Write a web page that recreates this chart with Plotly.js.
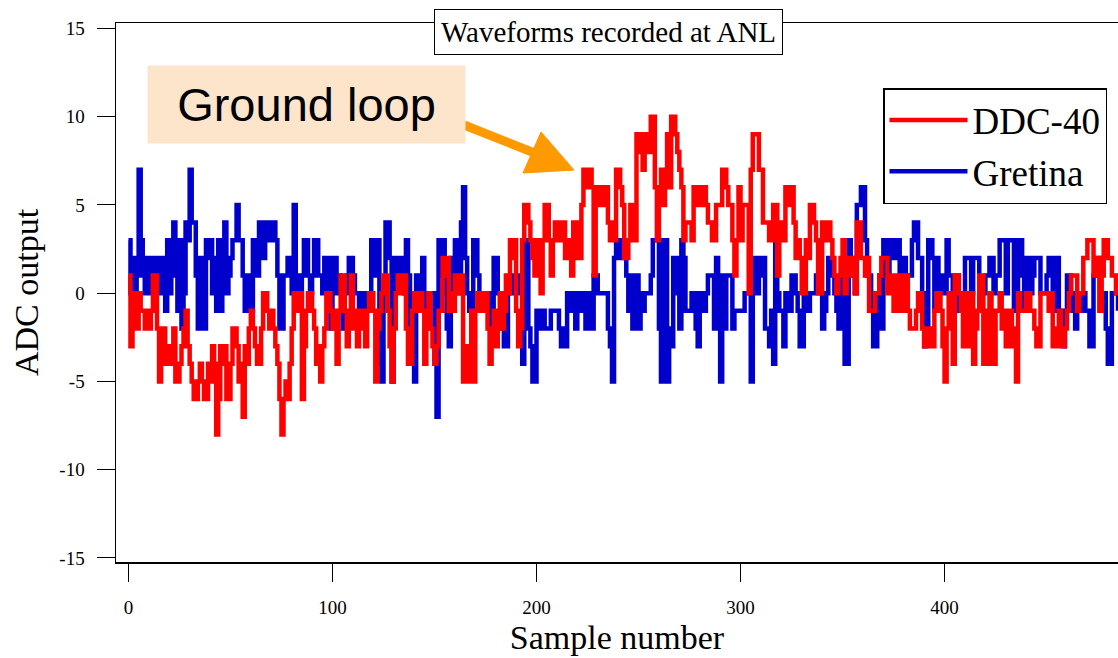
<!DOCTYPE html>
<html><head><meta charset="utf-8">
<script src="https://cdn.plot.ly/plotly-3.0.1.min.js"></script>
<style>html,body{margin:0;padding:0;background:#fff}#chart{width:1118px;height:658px}</style>
</head><body><div id="chart"></div>
<script>
// DDC-40 ADC output per sample
const ddc40 = [
 1,-3,0,-1,-2,0,-1,-1,-2,-1,
 -2,-1,1,1,-2,-5,-3,-2,-4,-3,
 -4,-3,-2,-5,-5,-4,-3,-2,-1,-3,
 -4,-5,-6,-6,-5,-4,-5,-6,-6,-4,
 -5,-3,-4,-8,-6,-3,-4,-3,-6,-6,
 -4,-2,-2,-3,-5,-4,-7,-3,-4,-2,
 -1,-2,-3,-4,-4,-2,0,0,-1,-2,
 -1,-2,-3,-4,-6,-8,-6,-5,-6,-4,
 -2,0,-1,0,0,-6,-3,-1,0,0,
 -1,-2,-4,-3,-5,-3,-2,0,0,-1,
 -2,-1,-4,-1,1,1,-1,-3,-1,1,
 -2,-1,-3,-1,-2,-1,-3,-1,0,0,
 -1,-5,-2,-1,0,1,1,-1,-3,-5,
 -2,0,1,1,0,1,-2,-4,-4,-1,
 0,-1,0,0,-1,-4,-1,0,-2,-3,
 -4,-3,-1,-1,2,1,2,-1,0,-1,
 1,1,0,1,-5,-3,-5,-3,-1,-5,
 -1,0,-1,-1,0,0,-2,-4,-2,-1,
 -3,-1,0,-2,-1,1,0,3,2,3,
 -1,-3,-2,3,5,5,4,3,2,1,
 3,2,0,3,5,5,3,1,3,4,
 4,3,4,4,2,2,3,1,4,4,
 2,2,5,7,7,6,7,6,1,6,
 5,6,6,5,6,4,3,4,3,7,
 7,6,5,2,2,3,5,4,3,9,
 8,9,7,9,9,8,10,10,6,3,
 5,7,5,6,9,6,10,10,9,8,
 7,6,3,4,4,4,3,6,6,5,
 6,5,6,5,4,4,3,3,5,5,
 5,7,7,6,5,5,3,1,3,6,
 3,5,5,5,0,7,9,9,9,7,
 7,4,4,4,3,3,5,5,1,4,
 4,3,6,6,5,6,4,2,3,2,
 0,0,3,2,5,5,4,3,0,0,
 4,4,3,4,3,2,1,0,1,2,
 3,0,2,1,2,2,0,4,4,2,
 2,1,2,-1,-1,-1,0,0,1,2,
 2,2,0,1,0,-1,1,1,-1,-1,
 1,1,-1,-2,-2,-2,-1,0,0,-2,
 -3,-3,-2,-3,-3,-1,0,0,-1,-3,
 -5,-2,0,-2,-4,1,1,0,-1,-3,
 0,-2,-3,0,-4,-2,-1,1,1,-4,
 -1,-4,0,-2,-4,-1,-1,0,-2,-1,
 -3,-2,-1,-3,-2,-5,0,-1,-1,-1,
 0,0,-1,-1,-2,-3,-3,0,0,0,
 0,-1,0,-3,-3,-2,-1,-3,-3,-2,
 -1,0,1,1,1,-1,0,0,2,2,
 3,3,3,1,2,2,-1,1,3,3,
 2,2,1,1,0,1
];
// Gretina ADC output per sample
const gretina = [
 3,0,2,0,1,7,3,1,0,2,
 0,2,1,2,0,1,2,0,-1,3,
 0,2,4,1,-1,3,-2,0,4,3,
 7,4,4,1,-2,2,0,-2,3,2,
 3,0,2,-1,3,-1,2,4,0,1,
 2,3,3,5,3,3,1,-1,1,1,
 -1,3,3,1,4,3,2,4,4,3,
 4,4,3,1,-2,-2,1,1,2,2,
 0,5,1,0,-1,1,3,3,1,0,
 1,3,3,1,1,0,2,2,0,-2,
 2,2,0,1,0,-2,0,1,2,2,
 1,0,0,-1,0,-1,0,0,0,3,
 3,1,3,-4,-5,0,4,4,2,-5,
 0,2,2,1,2,0,3,1,-2,0,
 -5,1,1,0,2,0,-2,0,0,0,
 -4,-7,3,1,3,0,-2,-3,2,1,
 3,3,0,4,6,2,0,-1,-1,3,
 3,1,0,-1,-1,0,0,-2,-1,2,
 2,0,0,-2,-3,-3,0,1,0,0,
 0,1,0,-4,3,3,-2,-3,-5,-5,
 -1,-1,-2,-1,-2,-2,-2,-1,-1,-1,
 -1,-2,-3,-2,-3,0,0,-1,0,-2,
 0,0,-1,0,-2,-1,0,-2,1,1,
 0,0,0,0,0,-2,-3,-5,2,3,
 3,2,3,2,1,-1,1,-2,1,1,
 -2,0,-1,0,0,0,1,3,3,3,
 -2,-5,3,3,-5,-2,-3,2,2,0,
 -2,3,2,-1,-1,-1,0,0,-2,-3,
 0,0,-1,0,1,1,1,-2,2,-1,
 -5,1,-2,1,1,1,-2,-1,-1,-1,
 -1,-1,0,0,0,-5,2,2,0,1,
 2,2,-2,-2,-3,-1,-4,4,0,-1,
 -1,-3,0,-1,-1,1,1,0,-1,-3,
 -3,0,-1,-1,0,0,0,1,0,0,
 -2,-1,0,2,2,1,0,-1,-2,1,
 1,-4,-4,3,2,1,0,5,5,6,
 6,3,1,1,-1,-3,-3,-1,1,-2,
 3,1,1,3,3,2,3,3,1,2,
 2,1,1,1,3,4,4,2,2,0,
 -3,-2,3,3,2,-1,2,0,1,1,
 0,3,1,1,0,1,1,-1,0,0,
 2,2,2,0,2,2,2,-1,0,0,
 1,1,2,2,0,1,1,3,3,3,
 0,3,3,3,-1,0,3,3,1,-1,
 2,2,0,1,2,2,2,0,0,0,
 1,2,2,-1,2,2,-1,-1,-3,-1,
 1,1,-1,0,-2,0,-1,-1,0,-1,
 -1,-3,-3,1,2,2,-1,-1,0,-2,
 -4,-4,0,0,0,-1
];
const sampleNumbers = ddc40.map((_, i) => i);
const xTickVals = [0, 100, 200, 300, 400];
const xTickLabels = ['0', '100', '200', '300', '400'];
const yTickVals = [-15, -10, -5, 0, 5, 10, 15];
const yTickLabels = ['-15', '-10', '-5', '0', '5', '10', '15'];
const seriesNames = ['DDC-40', 'Gretina'];
const chartTitle = 'Waveforms recorded at ANL';
const calloutText = 'Ground loop';

const W = 1118, H = 658, L = 116, R = 0, T = 23, B = 96;
const pw = W - L - R, ph = H - T - B;
const px = x => (x - L) / pw;
const py = y => (H - B - y) / ph;

const serif = 'Liberation Serif, Times New Roman, serif';
const orange = 'rgb(255,153,0)';

const traces = [
  {x: sampleNumbers, y: gretina, name: seriesNames[1], type: 'scatter', mode: 'lines',
   line: {color: '#0000cc', width: 4.5, shape: 'hv'}},
  {x: sampleNumbers, y: ddc40, name: seriesNames[0], type: 'scatter', mode: 'lines',
   line: {color: '#ff0000', width: 4.5, shape: 'hv'}}
];

const axisCommon = {
  showline: true, linecolor: '#000', linewidth: 1.5,
  ticks: 'outside', ticklen: 18, tickwidth: 1, tickcolor: '#000',
  showgrid: false, zeroline: false, tickmode: 'array',
  tickfont: {family: serif, size: 19, color: '#000'}
};

const layout = {
  width: W, height: H,
  margin: {l: L, r: R, t: T, b: B},
  paper_bgcolor: '#fff', plot_bgcolor: '#fff',
  showlegend: true,
  xaxis: Object.assign({}, axisCommon, {
    range: [-6.1, 485], tickvals: xTickVals, ticktext: xTickLabels, mirror: true, ticklabelstandoff: 10,
    title: {text: 'Sample number', font: {family: serif, size: 34, color: '#000'}, standoff: 8}
  }),
  yaxis: Object.assign({}, axisCommon, {
    range: [-15.23, 15.31], tickvals: yTickVals, ticktext: yTickLabels, ticklabelstandoff: 8,
    title: {text: 'ADC output', font: {family: serif, size: 34, color: '#000'}, standoff: 10}
  }),
  legend: {
    x: px(883), y: py(88), xanchor: 'left', yanchor: 'top',
    bgcolor: '#fff', bordercolor: '#000', borderwidth: 1.5,
    font: {family: serif, size: 37, color: '#000'},
    traceorder: 'reversed', itemwidth: 78
  },
  annotations: [
    {xref: 'paper', yref: 'paper', x: px(608), y: py(31.5), xanchor: 'center', yanchor: 'middle',
     showarrow: false, text: chartTitle, font: {family: serif, size: 29, color: '#000'},
     bgcolor: '#fff', bordercolor: '#000', borderwidth: 1, borderpad: 6},
    {xref: 'paper', yref: 'paper', x: px(306.5), y: py(104.5), xanchor: 'center', yanchor: 'middle',
     showarrow: false, text: calloutText,
     font: {family: 'Liberation Sans, Arial, sans-serif', size: 47, color: '#000'},
     bgcolor: 'rgb(253,229,204)', width: 301, height: 61, borderpad: 8}
  ],
  shapes: [
    {type: 'line', xref: 'paper', yref: 'paper', layer: 'above',
     x0: px(464), y0: py(125), x1: px(537), y1: py(154),
     line: {color: orange, width: 9}},
    {type: 'path', xref: 'paper', yref: 'paper', layer: 'above',
     path: 'M' + px(574) + ',' + py(170) + ' L' + px(523) + ',' + py(173) + ' L' + px(541) + ',' + py(132) + ' Z',
     fillcolor: orange, line: {color: orange, width: 1}}
  ]
};

Plotly.newPlot('chart', traces, layout, {displayModeBar: false, staticPlot: true});
</script>
</body></html>
